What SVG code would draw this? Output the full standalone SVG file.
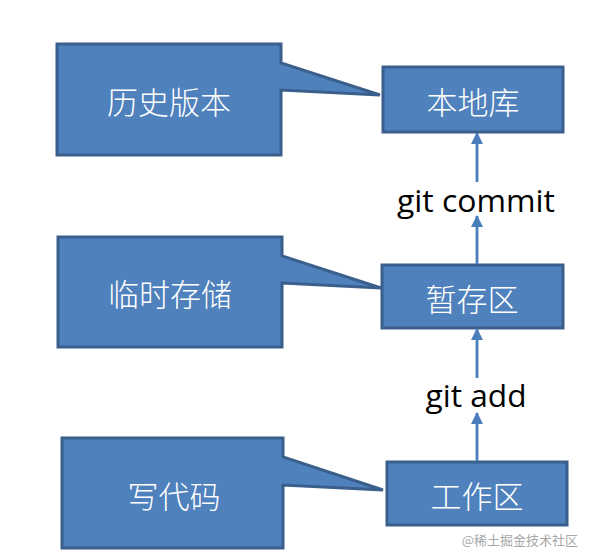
<svg xmlns="http://www.w3.org/2000/svg" width="593" height="558" viewBox="0 0 593 558">
<style>
.shape{fill:#4f81bd;stroke:#3a5f8c;stroke-width:3;stroke-linejoin:miter}
.cjk{font-family:"Noto Sans CJK SC","Noto Sans",sans-serif;font-size:31px;font-weight:300;fill:#ffffff;text-anchor:middle;dominant-baseline:central}
.lbl{font-family:"Open Sans","Noto Sans",sans-serif;font-size:31px;fill:#000000;text-anchor:middle}
.conn{stroke:#4a7ebb;stroke-width:2.8;fill:none}
.wm{font-family:"Noto Sans CJK SC",sans-serif;font-size:13px;fill:#a8a8a8;text-anchor:end}
</style>
<defs>
<marker id="ah" markerUnits="userSpaceOnUse" markerWidth="12" markerHeight="12" viewBox="0 0 12 12" refX="11" refY="6" orient="auto">
<path d="M0,0 L12,6 L0,12 Z" fill="#4a7ebb"/>
</marker>
</defs>
<rect width="593" height="558" fill="#ffffff"/>
<g id="callout-history">
<path class="shape" d="M57,44 H281 V63 L380,95 L281,90 V155 H57 Z"/>
<text class="cjk" x="169" y="100" font-size="32">历史版本</text>
</g>
<g id="callout-temp">
<path class="shape" d="M58,237 H282 V256 L381,288 L282,283 V347 H58 Z"/>
<text class="cjk" x="170" y="292" font-size="32">临时存储</text>
</g>
<g id="callout-code">
<path class="shape" d="M62,438 H283 V457 L383,490 L283,485 V548 H62 Z"/>
<text class="cjk" x="174" y="494" font-size="32">写代码</text>
</g>
<g id="node-local-repo">
<rect class="shape" x="383" y="67" width="180" height="65"/>
<text class="cjk" x="473" y="100">本地库</text>
</g>
<g id="node-stage">
<rect class="shape" x="382" y="265" width="181" height="63"/>
<text class="cjk" x="472" y="297">暂存区</text>
</g>
<g id="node-workspace">
<rect class="shape" x="387" y="462" width="180" height="63"/>
<text class="cjk" x="477" y="494">工作区</text>
</g>
<g id="connectors">
<line class="conn" x1="477" y1="264" x2="477" y2="216" marker-end="url(#ah)"/>
<line class="conn" x1="477" y1="182" x2="477" y2="133" marker-end="url(#ah)"/>
<line class="conn" x1="477" y1="378" x2="477" y2="329" marker-end="url(#ah)"/>
<line class="conn" x1="477" y1="461" x2="477" y2="413" marker-end="url(#ah)"/>
<text class="lbl" x="476" y="212" textLength="158" lengthAdjust="spacingAndGlyphs">git commit</text>
<text class="lbl" x="476" y="407" textLength="101" lengthAdjust="spacingAndGlyphs">git add</text>
</g>
<text class="wm" x="578" y="545">@稀土掘金技术社区</text>
</svg>
